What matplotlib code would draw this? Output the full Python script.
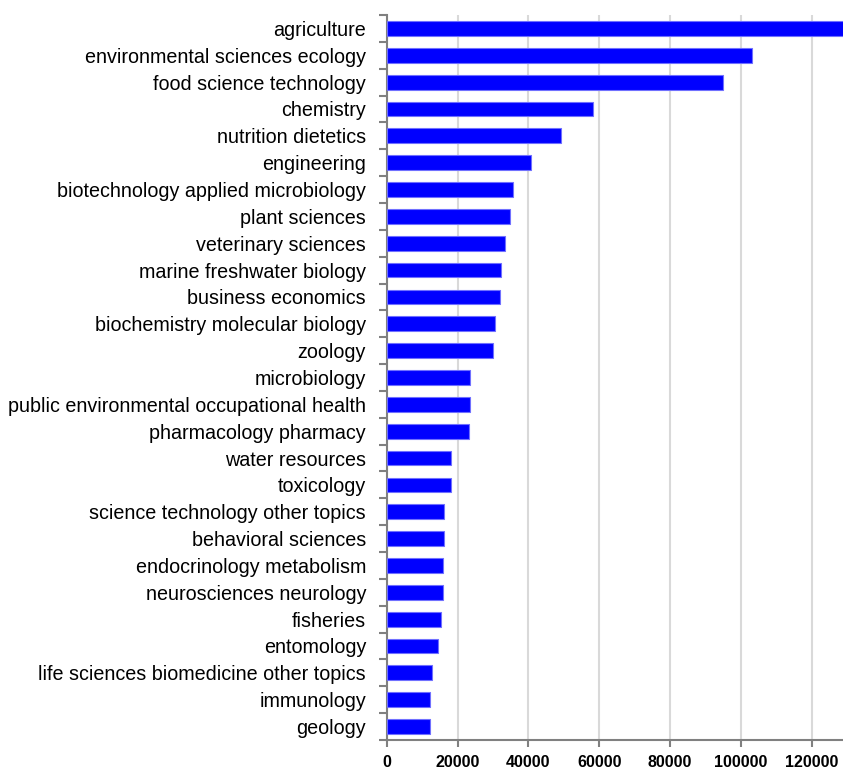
import matplotlib
matplotlib.use("Agg")
from matplotlib import pyplot as plt
import numpy as np

categories = ["agriculture", "environmental sciences ecology", "food science technology",
              "chemistry", "nutrition dietetics", "engineering",
              "biotechnology applied microbiology", "plant sciences", "veterinary sciences",
              "marine freshwater biology", "business economics",
              "biochemistry molecular biology", "zoology", "microbiology",
              "public environmental occupational health", "pharmacology pharmacy",
              "water resources", "toxicology", "science technology other topics",
              "behavioral sciences", "endocrinology metabolism", "neurosciences neurology",
              "fisheries", "entomology", "life sciences biomedicine other topics",
              "immunology", "geology"]
counts = [129500, 103300, 94900, 58300, 49300, 40700, 35650, 34800, 33400, 32350,
          31900, 30550, 30100, 23600, 23600, 23200, 18100, 18000, 16250, 16050,
          15950, 15900, 15400, 14550, 12650, 12300, 12100]
xticks = [0, 20000, 40000, 60000, 80000, 100000, 120000]

plt.rcParams['font.family'] = ['Liberation Sans', 'DejaVu Sans']

fig = plt.figure(figsize=(8.43, 7.70), dpi=100)
ax = fig.add_axes([0.459, 0.039, 0.541, 0.9415])

y = np.arange(len(categories))
ax.barh(y, counts, height=0.55, color='#0000ff', edgecolor='#7070ff', linewidth=0.8, zorder=3)

ax.set_xlim(0, 128900)
ax.set_ylim(len(categories) - 0.5, -0.5)

ax.set_yticks(y)
ax.set_yticklabels(categories, fontsize=14.2)
ax.set_yticks(np.arange(len(categories) + 1) - 0.5, minor=True)
ax.tick_params(axis='y', which='major', length=0, pad=15)
ax.tick_params(axis='y', which='minor', length=6, width=1.5, color='#808080', direction='out')

ax.set_xticks(xticks)
ax.set_xticklabels([str(t) for t in xticks], fontsize=11.5, fontweight='bold')
ax.tick_params(axis='x', length=5, width=1.5, color='#808080', pad=6)

ax.grid(axis='x', color='#d9d9d9', linewidth=1.5, zorder=0)
ax.set_axisbelow(True)
for s in ['top', 'right']:
    ax.spines[s].set_visible(False)
for s in ['left', 'bottom']:
    ax.spines[s].set_color('#808080')
    ax.spines[s].set_linewidth(1.5)

fig.savefig("out.png", dpi=100)
